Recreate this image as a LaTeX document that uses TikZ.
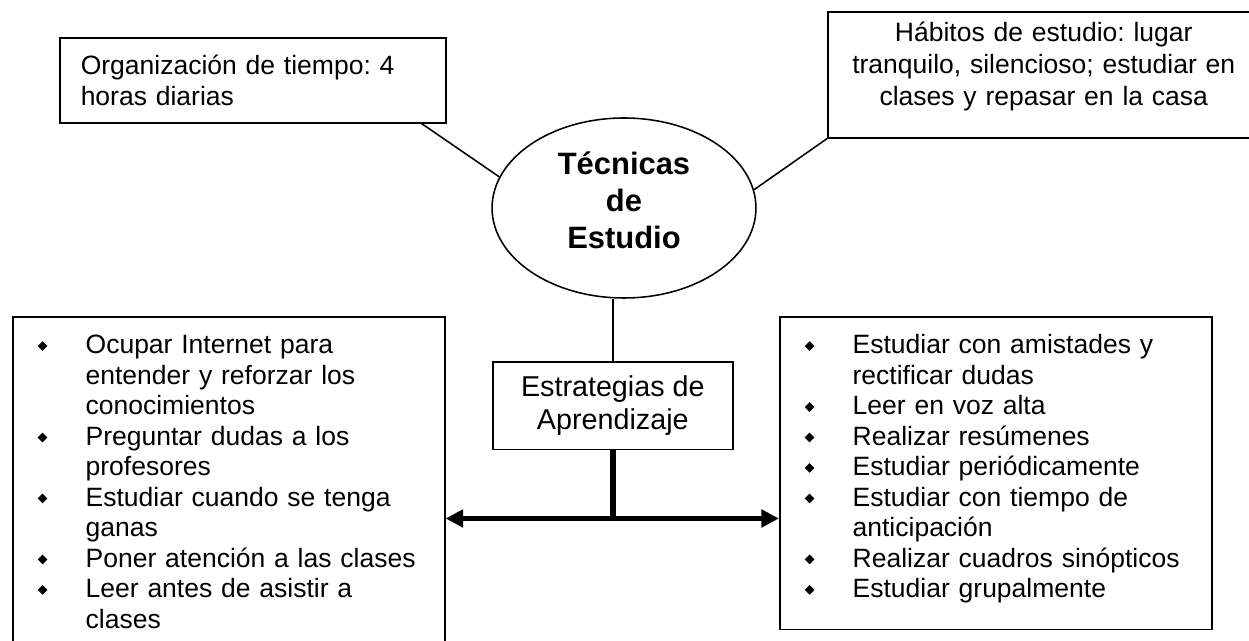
\documentclass[tikz,border=0pt]{standalone}
\usepackage{fontspec}
\setmainfont{Liberation Sans}
\usetikzlibrary{shapes.geometric,arrows.meta}
\frenchspacing

\newcommand{\rombo}{\raisebox{1.3pt}{\rotatebox{45}{\rule{3.1pt}{3.1pt}}}}
\newcommand{\vin}{\strut\makebox[21.7pt][l]{\rombo}}
\newcommand{\sang}{\strut\hspace*{21.7pt}}

\begin{document}
\begin{tikzpicture}[x=0.4528pt, y=-0.4528pt, line width=0.7pt,
    caja/.style={draw, anchor=north west, inner ysep=0pt},
    lista/.style={caja, align=left, text width=173pt, inner xsep=11.3pt, inner ysep=7.1pt,
      font=\fontsize{12}{13.8}\selectfont},
    flecha/.style={line width=2.3pt, {Triangle[length=8pt,width=7.8pt]}-{Triangle[length=8pt,width=7.8pt]}}]
    \useasboundingbox (0,0) rectangle (1249,641);
    \clip (0,0) rectangle (1249,641);

    \node[ellipse, draw, inner sep=0pt, minimum width=119.5pt, minimum height=81.5pt,
      align=center, font=\bfseries\fontsize{14}{16.75}\selectfont] (tec) at (624,208)
      {Técnicas\\de\\Estudio\rule[-7.5pt]{0pt}{0pt}};
    \node[caja, align=left, text width=155.8pt, inner xsep=9.5pt, minimum height=38.5pt,
      font=\fontsize{12}{13.8}\selectfont] (org) at (59,37)
      {Organización de tiempo: 4\\horas diarias};
    \node[caja, align=center, text width=187.6pt, inner xsep=4pt, minimum height=57.1pt,
      font=\fontsize{12}{14.5}\selectfont] (hab) at (827,11)
      {Hábitos de estudio: lugar\\tranquilo, silencioso; estudiar en\\clases y repasar en la casa\rule[-10pt]{0pt}{0pt}};
    \node[caja, minimum width=108.7pt, minimum height=39.8pt, align=center,
      font=\fontsize{13}{15}\selectfont] (estr) at (492,361) {Estrategias de\\Aprendizaje};

    \node[lista] (izq) at (12,316)
      {\vin Ocupar Internet para\\\sang entender y reforzar los\\\sang conocimientos\\
       \vin Preguntar dudas a los\\\sang profesores\\
       \vin Estudiar cuando se tenga\\\sang ganas\\
       \vin Poner atención a las clases\\
       \vin Leer antes de asistir a\\\sang clases};
    \node[lista] (der) at (779,316)
      {\vin Estudiar con amistades y\\\sang rectificar dudas\\
       \vin Leer en voz alta\\
       \vin Realizar resúmenes\\
       \vin Estudiar periódicamente\\
       \vin Estudiar con tiempo de\\\sang anticipación\\
       \vin Realizar cuadros sinópticos\\
       \vin Estudiar grupalmente\rule[-7.4pt]{0pt}{0pt}};

    \draw ([xshift=-11.3pt]org.south east) -- (tec.166);
    \draw (tec.8) -- (hab.south west);
    \draw (estr.north) -- (estr.north |- tec.south);
    \coordinate (cruce) at ([yshift=-30.8pt]estr.south);
    \draw[line width=2.7pt] (estr.south) -- (cruce);
    \draw[flecha] (cruce -| izq.east) -- (cruce -| der.west);
\end{tikzpicture}
\end{document}
